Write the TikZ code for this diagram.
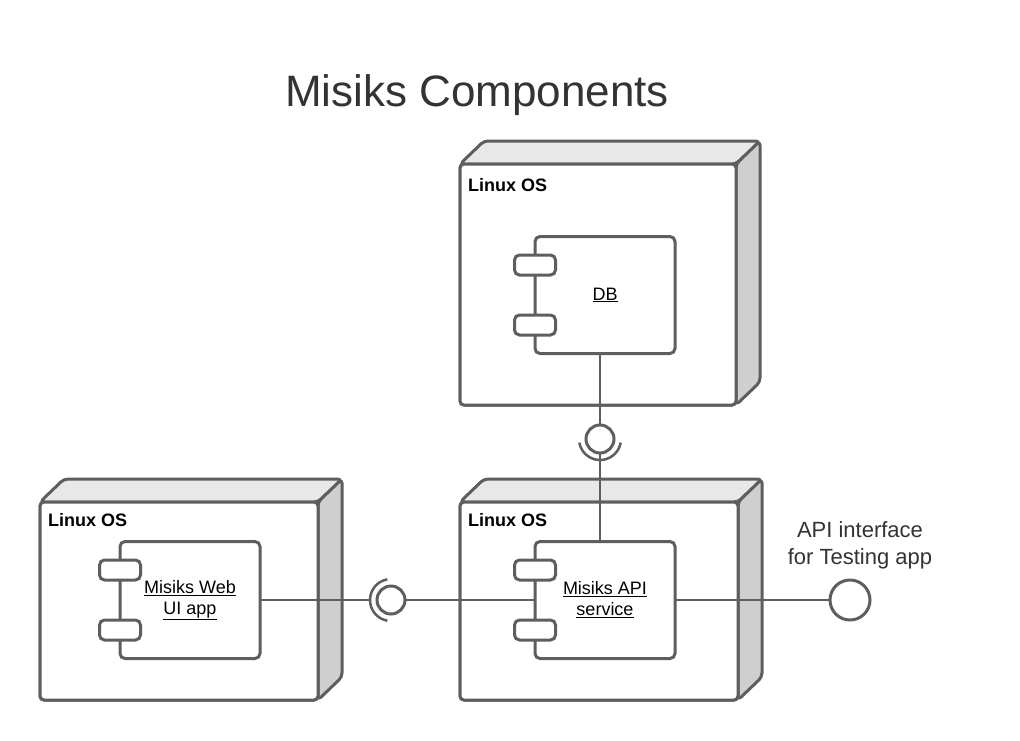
\documentclass[tikz,border=0pt]{standalone}
\usepackage{fontspec}
\setmainfont{Liberation Sans}
\usetikzlibrary{calc}
\definecolor{ln}{HTML}{5E5E5E}
\definecolor{topf}{HTML}{E8E8E8}
\definecolor{sidef}{HTML}{CFCFCF}
\definecolor{ttl}{HTML}{333333}
\tikzset{
  front/.style={draw=ln, line width=3pt, fill=white, rounded corners=4pt, inner sep=0pt, outer sep=0pt, anchor=north west},
  face/.style={draw=ln, line width=3pt, rounded corners=4pt, line join=round},
  comp/.style={draw=ln, line width=3pt, fill=white, rounded corners=5pt, minimum width=140pt, minimum height=117pt, inner sep=0pt, outer sep=0pt, align=center, font=\fontsize{18}{21}\selectfont},
  tab/.style={draw=ln, line width=3pt, fill=white, rounded corners=5pt, minimum width=41pt, minimum height=20pt, inner sep=0pt, outer sep=0pt},
  ball/.style={draw=ln, line width=3pt, fill=white, circle, inner sep=0pt, outer sep=0pt, minimum size=#1},
  conn/.style={draw=ln, line width=2.5pt},
  os/.style={anchor=west, font=\fontsize{18}{20}\selectfont\bfseries, inner sep=0pt}
}
\newcommand{\osnode}[5]{%
  \node[front, minimum width=#4pt, minimum height=#5pt] (#1) at (#2,#3) {};
  \path[face, fill=topf] (#1.north west) -- ++(24,-23) -- ($(#1.north east)+(24,-23)$) -- (#1.north east) -- cycle;
  \path[face, fill=sidef] (#1.north east) -- ++(24,-23) -- ($(#1.south east)+(24,-23)$) -- (#1.south east) -- cycle;
  \node[front, minimum width=#4pt, minimum height=#5pt] at (#2,#3) {};
}
\begin{document}
\begin{tikzpicture}[x=1pt,y=-1pt]
\useasboundingbox (0,0) rectangle (1020,740);
\fill[white] (0,0) rectangle (1020,740);

\node[text=ttl, font=\fontsize{44}{50}\selectfont] (title) at (477,95) {Misiks Components};

% deployment nodes
\osnode{n1}{460}{164}{276}{241}
\osnode{n2}{40}{502}{278}{198}
\osnode{n3}{460}{502}{278}{198}
\node[os] (l1) at (468,185) {Linux OS};
\node[os] (l2) at (48,520) {Linux OS};
\node[os] (l3) at (468,520) {Linux OS};

% components
\node[comp] (db) at (605,295) {\underline{DB}};
\node[tab] (db1) at (535,265) {};
\node[tab] (db2) at (535,325) {};

\node[comp] (web) at (190,600) {\underline{Misiks Web}\\\underline{UI app}};
\node[tab] (web1) at (120,570) {};
\node[tab] (web2) at (120,630) {};

\node[comp] (api) at (605,600) {\underline{Misiks API}\\\underline{service}};
\node[tab] (api1) at (535,570) {};
\node[tab] (api2) at (535,630) {};

% interfaces
\node[ball=28pt] (b1) at (600,439) {};
\node[ball=28pt] (b2) at (391,600) {};
\node[ball=40pt] (b3) at (850,600) {};

% connectors
\draw[conn] (b1.north) -- (b1.north |- db.south);
\draw[conn] (b1.south) -- (b1.south |- api.north);
\draw[conn] ([shift={(190:21pt)}]b1.center) arc[start angle=190, end angle=350, radius=21pt];

\coordinate (s2) at ($(b2.center)+(-21,0)$);
\draw[conn] (web.east) -- (s2);
\draw[conn] (b2.east) -- (api.west);
\draw[conn] ([shift={(100:21pt)}]b2.center) arc[start angle=100, end angle=260, radius=21pt];

\draw[conn] (api.east) -- (b3.west);
\node[align=center, text=ttl, font=\fontsize{22}{27}\selectfont] (lbl) at (860,545) {API interface\\for Testing app};
\end{tikzpicture}
\end{document}
